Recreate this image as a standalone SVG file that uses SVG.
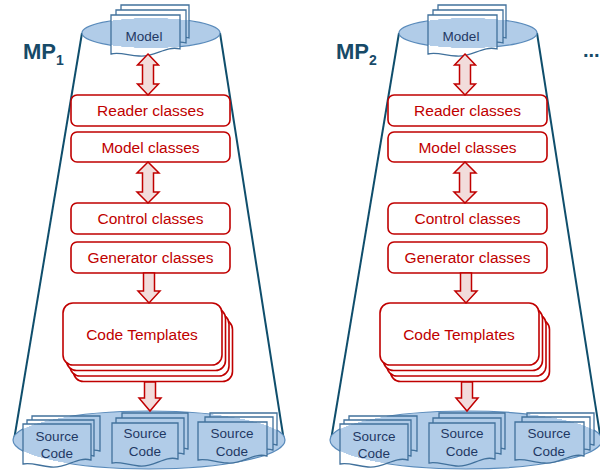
<svg xmlns="http://www.w3.org/2000/svg" width="600" height="471" viewBox="0 0 600 471">
  <defs>
    <style>
      .edge { stroke: #0F4E6C; stroke-width: 2; fill: none; }
      .store { fill: #B1CCE8; stroke: #5A8BBB; stroke-width: 1.2; }
      .doc { stroke: #41719C; stroke-width: 1.3; }
      .docTop { fill: url(#topFill); }
      .docBot { fill: url(#botFill); }
      .box { fill: #FFFFFF; stroke: #C00000; stroke-width: 1.6; }
      .boxText { font-family: "Liberation Sans", Arial, sans-serif; font-size: 15.5px; fill: #C00000; text-anchor: middle; }
      .docText { font-family: "Liberation Sans", Arial, sans-serif; font-size: 13.5px; fill: #1F3864; text-anchor: middle; }
      .mp { font-family: "Liberation Sans", Arial, sans-serif; font-weight: bold; fill: #174A68; }
      .arrow { fill: #F2DCDB; stroke: #C00000; stroke-width: 1.5; stroke-linejoin: miter; }
    </style>
    <!-- document pages take the store colour where they sit inside the ellipse -->
    <radialGradient id="topFill" gradientUnits="userSpaceOnUse" cx="0" cy="0" r="1" gradientTransform="translate(151 33) scale(69 15)">
      <stop offset="0" stop-color="#B1CCE8"/>
      <stop offset="0.995" stop-color="#B1CCE8"/>
      <stop offset="1" stop-color="#FFFFFF"/>
    </radialGradient>
    <radialGradient id="botFill" gradientUnits="userSpaceOnUse" cx="0" cy="0" r="1" gradientTransform="translate(149 440) scale(136 29)">
      <stop offset="0" stop-color="#B1CCE8"/>
      <stop offset="0.997" stop-color="#B1CCE8"/>
      <stop offset="1" stop-color="#FFFFFF"/>
    </radialGradient>
  </defs>

  <rect width="600" height="471" fill="#FFFFFF"/>

  <!-- ===== Pipeline MP1 ===== -->
  <g id="mp1">
    <g id="mp1-frame">
      <line class="edge" x1="82" y1="33" x2="14" y2="440"/>
      <line class="edge" x1="220" y1="33" x2="284" y2="441"/>
    </g>
    <text class="mp" x="23" y="59" font-size="22">MP<tspan font-size="14" dy="6">1</tspan></text>

    <g id="mp1-model">
      <ellipse class="store" cx="151" cy="33" rx="69" ry="15"/>
      <path class="doc docTop" d="M121,5 H189 V38 C175,34 165,46 150,44 C138,43 130,40 121,42 Z"/>
      <path class="doc docTop" d="M116,10 H186 V43 C172,39 162,51 147,49 C135,48 126,45 116,47 Z"/>
      <path class="doc docTop" d="M111,15 H180 V49 C166,45 154,58 139,56 C127,55 119,52 111,54 Z"/>
      <text class="docText" x="144" y="41" font-size="14">Model</text>
    </g>

    <g id="mp1-reader">
      <rect class="box" x="71" y="95" width="159" height="31" rx="6"/>
      <text class="boxText" x="150.5" y="116">Reader classes</text>
    </g>
    <g id="mp1-modelclasses">
      <rect class="box" x="71" y="132" width="159" height="30" rx="6"/>
      <text class="boxText" x="150.5" y="152.5">Model classes</text>
    </g>
    <g id="mp1-control">
      <rect class="box" x="71" y="203" width="159" height="31" rx="6"/>
      <text class="boxText" x="150.5" y="224">Control classes</text>
    </g>
    <g id="mp1-generator">
      <rect class="box" x="71" y="242" width="159" height="31" rx="6"/>
      <text class="boxText" x="150.5" y="263">Generator classes</text>
    </g>
    <g id="mp1-templates">
      <rect class="box" x="73.5" y="319.5" width="159" height="62" rx="10"/>
      <rect class="box" x="70" y="314" width="159" height="62" rx="10"/>
      <rect class="box" x="66.5" y="308.5" width="159" height="62" rx="10"/>
      <rect class="box" x="63" y="303" width="159" height="62" rx="10"/>
      <text class="boxText" x="142" y="339.5">Code Templates</text>
    </g>

    <g id="mp1-source">
      <ellipse class="store" cx="149" cy="440" rx="136" ry="29"/>
      <!-- left stack -->
      <path class="doc docBot" d="M32,416 H100 V451 C86,447 76,459 61,457 C49,456 40,452 32,454 Z"/>
      <path class="doc docBot" d="M27,420 H94 V456 C80,452 70,464 55,462 C43,461 35,457 27,459 Z"/>
      <path class="doc docBot" d="M23,424 H91 V460 C77,456 66,469 51,467 C39,466 31,462 23,464 Z"/>
      <text class="docText" x="57" y="441">Source</text>
      <text class="docText" x="57" y="458">Code</text>
      <!-- middle stack -->
      <path class="doc docBot" d="M122,413 H188 V449 C174,445 164,457 149,455 C137,454 129,450 122,452 Z"/>
      <path class="doc docBot" d="M116,418 H184 V454 C170,450 160,462 145,460 C133,459 124,455 116,457 Z"/>
      <path class="doc docBot" d="M112,423 H178 V459 C164,455 154,468 139,466 C127,465 119,461 112,463 Z"/>
      <text class="docText" x="145" y="438">Source</text>
      <text class="docText" x="145" y="456">Code</text>
      <!-- right stack -->
      <path class="doc docBot" d="M210,413 H277 V445 C263,441 253,453 238,451 C226,450 218,446 210,448 Z"/>
      <path class="doc docBot" d="M205,417 H273 V450 C259,446 249,458 234,456 C222,455 213,451 205,453 Z"/>
      <path class="doc docBot" d="M198,422 H267 V456 C253,452 242,465 227,463 C215,462 206,458 198,460 Z"/>
      <text class="docText" x="232" y="438">Source</text>
      <text class="docText" x="232" y="456">Code</text>
    </g>
  </g>

  <!-- ===== Pipeline MP2 (same layout, shifted right) ===== -->
  <g id="mp2" transform="translate(317 0)">
    <g id="mp2-frame">
      <line class="edge" x1="82" y1="33" x2="14" y2="440"/>
      <line class="edge" x1="220" y1="33" x2="284" y2="441"/>
    </g>
    <text class="mp" x="19" y="59" font-size="22">MP<tspan font-size="14" dy="6">2</tspan></text>

    <g id="mp2-model">
      <ellipse class="store" cx="151" cy="33" rx="69" ry="15"/>
      <path class="doc docTop" d="M121,5 H189 V38 C175,34 165,46 150,44 C138,43 130,40 121,42 Z"/>
      <path class="doc docTop" d="M116,10 H186 V43 C172,39 162,51 147,49 C135,48 126,45 116,47 Z"/>
      <path class="doc docTop" d="M111,15 H180 V49 C166,45 154,58 139,56 C127,55 119,52 111,54 Z"/>
      <text class="docText" x="144" y="41" font-size="14">Model</text>
    </g>

    <g id="mp2-reader">
      <rect class="box" x="71" y="95" width="159" height="31" rx="6"/>
      <text class="boxText" x="150.5" y="116">Reader classes</text>
    </g>
    <g id="mp2-modelclasses">
      <rect class="box" x="71" y="132" width="159" height="30" rx="6"/>
      <text class="boxText" x="150.5" y="152.5">Model classes</text>
    </g>
    <g id="mp2-control">
      <rect class="box" x="71" y="203" width="159" height="31" rx="6"/>
      <text class="boxText" x="150.5" y="224">Control classes</text>
    </g>
    <g id="mp2-generator">
      <rect class="box" x="71" y="242" width="159" height="31" rx="6"/>
      <text class="boxText" x="150.5" y="263">Generator classes</text>
    </g>
    <g id="mp2-templates">
      <rect class="box" x="73.5" y="319.5" width="159" height="62" rx="10"/>
      <rect class="box" x="70" y="314" width="159" height="62" rx="10"/>
      <rect class="box" x="66.5" y="308.5" width="159" height="62" rx="10"/>
      <rect class="box" x="63" y="303" width="159" height="62" rx="10"/>
      <text class="boxText" x="142" y="339.5">Code Templates</text>
    </g>

    <g id="mp2-source">
      <ellipse class="store" cx="149" cy="440" rx="136" ry="29"/>
      <path class="doc docBot" d="M32,416 H100 V451 C86,447 76,459 61,457 C49,456 40,452 32,454 Z"/>
      <path class="doc docBot" d="M27,420 H94 V456 C80,452 70,464 55,462 C43,461 35,457 27,459 Z"/>
      <path class="doc docBot" d="M23,424 H91 V460 C77,456 66,469 51,467 C39,466 31,462 23,464 Z"/>
      <text class="docText" x="57" y="441">Source</text>
      <text class="docText" x="57" y="458">Code</text>
      <path class="doc docBot" d="M122,413 H188 V449 C174,445 164,457 149,455 C137,454 129,450 122,452 Z"/>
      <path class="doc docBot" d="M116,418 H184 V454 C170,450 160,462 145,460 C133,459 124,455 116,457 Z"/>
      <path class="doc docBot" d="M112,423 H178 V459 C164,455 154,468 139,466 C127,465 119,461 112,463 Z"/>
      <text class="docText" x="145" y="438">Source</text>
      <text class="docText" x="145" y="456">Code</text>
      <path class="doc docBot" d="M210,413 H277 V445 C263,441 253,453 238,451 C226,450 218,446 210,448 Z"/>
      <path class="doc docBot" d="M205,417 H273 V450 C259,446 249,458 234,456 C222,455 213,451 205,453 Z"/>
      <path class="doc docBot" d="M198,422 H267 V456 C253,452 242,465 227,463 C215,462 206,458 198,460 Z"/>
      <text class="docText" x="232" y="438">Source</text>
      <text class="docText" x="232" y="456">Code</text>
    </g>
  </g>

  <text class="mp" x="583" y="57" font-size="20">...</text>

  <!-- ===== Connectors (block arrows) ===== -->
  <g id="connectors">
    <!-- MP1 -->
    <path class="arrow" d="M148,54 L158.5,65 L153.5,65 L153.5,84 L158.5,84 L148,95 L137.5,84 L142.5,84 L142.5,65 L137.5,65 Z"/>
    <path class="arrow" d="M148,162 L159,173 L153.5,173 L153.5,192 L159,192 L148,203 L137,192 L142.5,192 L142.5,173 L137,173 Z"/>
    <path class="arrow" d="M143.5,273 L154.5,273 L154.5,291 L160,291 L149,303 L138,291 L143.5,291 Z"/>
    <path class="arrow" d="M144.5,382 L155.5,382 L155.5,398 L161,398 L150,411 L139,398 L144.5,398 Z"/>
    <!-- MP2 -->
    <g transform="translate(317 0)">
      <path class="arrow" d="M148,54 L158.5,65 L153.5,65 L153.5,84 L158.5,84 L148,95 L137.5,84 L142.5,84 L142.5,65 L137.5,65 Z"/>
      <path class="arrow" d="M148,162 L159,173 L153.5,173 L153.5,192 L159,192 L148,203 L137,192 L142.5,192 L142.5,173 L137,173 Z"/>
      <path class="arrow" d="M143.5,273 L154.5,273 L154.5,291 L160,291 L149,303 L138,291 L143.5,291 Z"/>
      <path class="arrow" d="M144.5,382 L155.5,382 L155.5,398 L161,398 L150,411 L139,398 L144.5,398 Z"/>
    </g>
  </g>
</svg>
